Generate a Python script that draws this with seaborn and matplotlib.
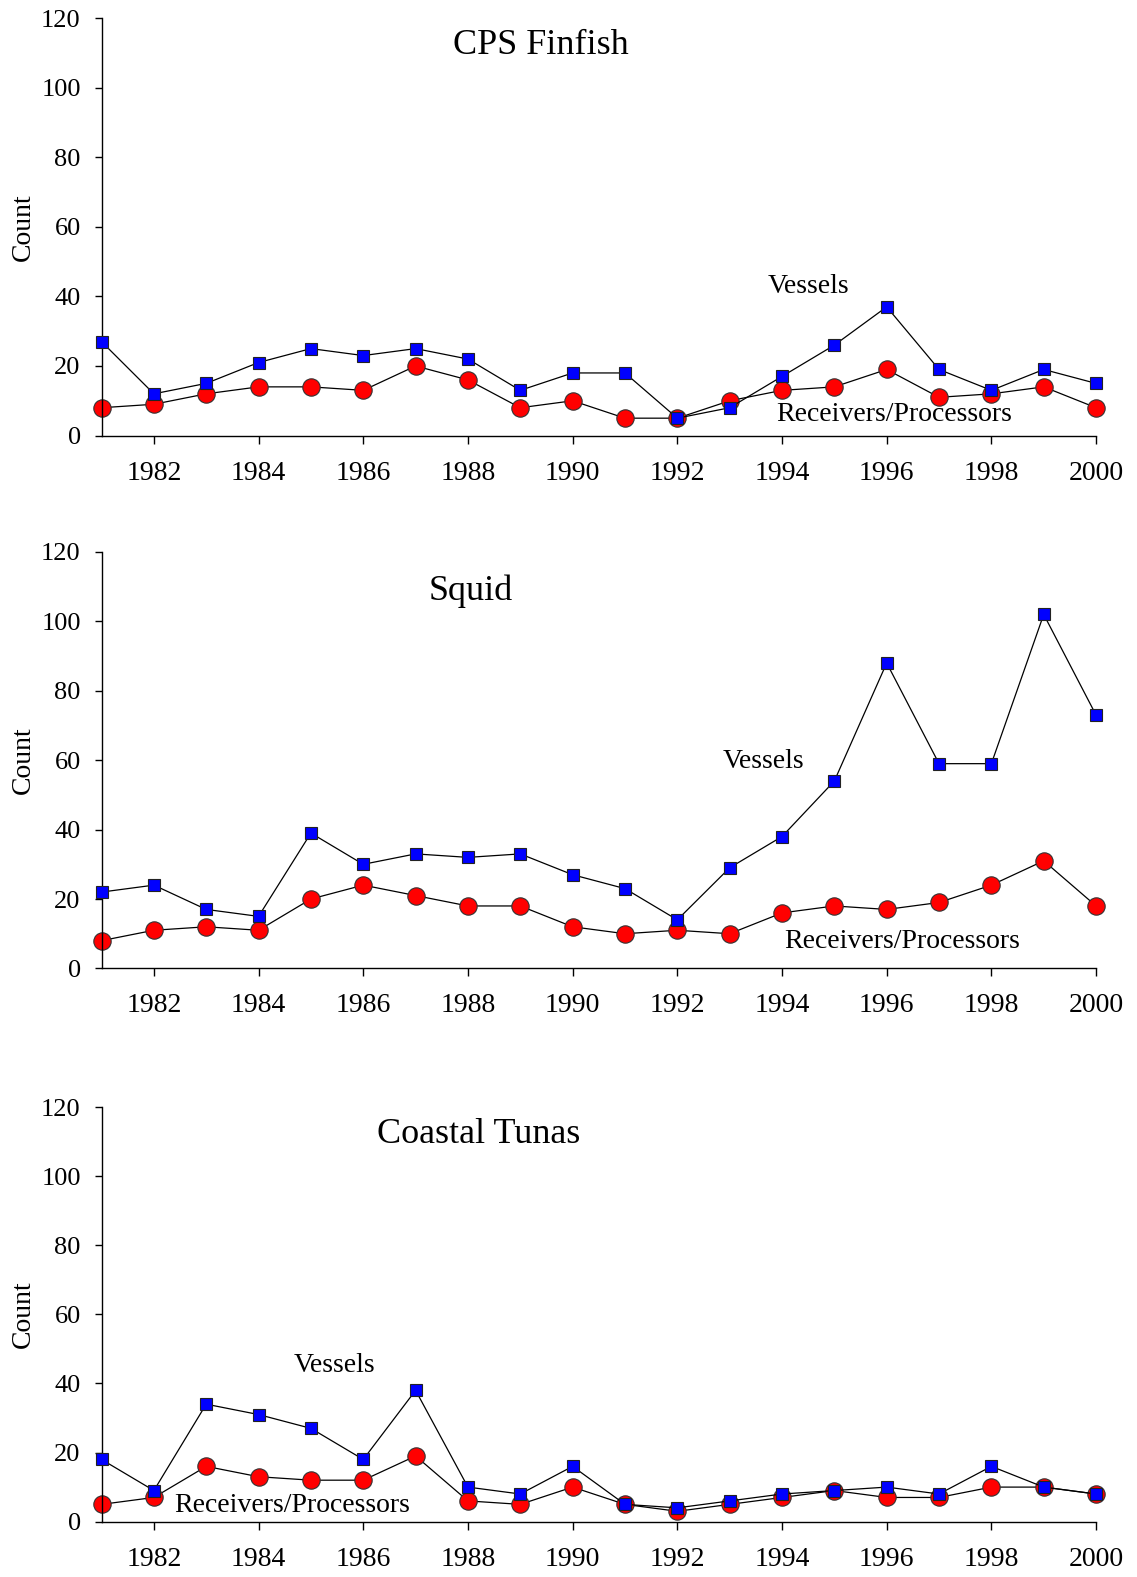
import numpy as np
import pandas as pd
import matplotlib
matplotlib.use("Agg")
import matplotlib.pyplot as plt
import seaborn as sns

years = list(range(1981, 2001))

finfish_vessels = [27, 12, 15, 21, 25, 23, 25, 22, 13, 18, 18, 5, 8, 17, 26, 37, 19, 13, 19, 15]
finfish_receivers = [8, 9, 12, 14, 14, 13, 20, 16, 8, 10, 5, 5, 10, 13, 14, 19, 11, 12, 14, 8]

squid_vessels = [22, 24, 17, 15, 39, 30, 33, 32, 33, 27, 23, 14, 29, 38, 54, 88, 59, 59, 102, 73]
squid_receivers = [8, 11, 12, 11, 20, 24, 21, 18, 18, 12, 10, 11, 10, 16, 18, 17, 19, 24, 31, 18]

tunas_vessels = [18, 9, 34, 31, 27, 18, 38, 10, 8, 16, 5, 4, 6, 8, 9, 10, 8, 16, 10, 8]
tunas_receivers = [5, 7, 16, 13, 12, 12, 19, 6, 5, 10, 5, 3, 5, 7, 9, 7, 7, 10, 10, 8]

titles = ["CPS Finfish", "Squid", "Coastal Tunas"]
y_ticks = [0, 20, 40, 60, 80, 100, 120]
x_ticks = list(range(1982, 2001, 2))

sns.set_theme(style="ticks")
plt.rcParams['font.family'] = ['Liberation Serif', 'DejaVu Serif']
plt.rcParams['text.color'] = 'black'
plt.rcParams['axes.labelcolor'] = 'black'
plt.rcParams['xtick.color'] = 'black'
plt.rcParams['ytick.color'] = 'black'
plt.rcParams['axes.edgecolor'] = 'black'

fig = plt.figure(figsize=(11.37, 15.77), dpi=100)

panels = [
    (finfish_vessels, finfish_receivers),
    (squid_vessels, squid_receivers),
    (tunas_vessels, tunas_receivers),
]
bottoms = [0.7238, 0.3859, 0.0351]
heights = [0.2647, 0.2641, 0.2629]

# text placement (data coords): title, vessels label, receivers label
text_pos = [
    ((1989.4, 112.2), (1994.5, 42.8), (1996.15, 6.1)),
    ((1988.05, 108.7), (1993.65, 59.7), (1996.3, 7.8)),
    ((1988.2, 112.1), (1985.45, 45.1), (1984.65, 4.7)),
]

for i, (ves, rec) in enumerate(panels):
    ax = fig.add_axes([0.0893, bottoms[i], 0.8747, heights[i]])
    df = pd.DataFrame({"Year": years, "Vessels": ves, "Receivers": rec})
    sns.lineplot(data=df, x="Year", y="Receivers", ax=ax, color="black", lw=0.9,
                 marker="o", markersize=12.5, markerfacecolor="#FF0000",
                 markeredgecolor="#333333", markeredgewidth=0.8, zorder=2)
    sns.lineplot(data=df, x="Year", y="Vessels", ax=ax, color="black", lw=0.9,
                 marker="s", markersize=9, markerfacecolor="#0000FF",
                 markeredgecolor="#222222", markeredgewidth=0.8, zorder=3)
    ax.set_xlim(1981, 2000)
    ax.set_ylim(0, 120)
    ax.set_xticks(x_ticks)
    ax.set_xticklabels([str(t) for t in x_ticks])
    ax.set_yticks(y_ticks)
    for sp in ["top", "right"]:
        ax.spines[sp].set_visible(False)
    for sp in ["left", "bottom"]:
        ax.spines[sp].set_linewidth(1.0)
        ax.spines[sp].set_color("black")
    ax.tick_params(axis="x", direction="out", length=6, width=1.0, pad=12, labelsize=20, colors="black")
    ax.tick_params(axis="y", direction="out", length=5, width=1.0, pad=10, labelsize=19, colors="black")
    ax.set_xlabel("")
    ax.set_ylabel("Count", fontsize=20, labelpad=4, color="black")
    for line in ax.lines:
        line.set_clip_on(False)
    (tx, ty), (vx, vy), (rx, ry) = text_pos[i]
    ax.text(tx, ty, titles[i], fontsize=26, ha="center", va="center", color="black")
    ax.text(vx, vy, "Vessels", fontsize=20, ha="center", va="center", color="black")
    ax.text(rx, ry, "Receivers/Processors", fontsize=20, ha="center", va="center", color="black")

fig.savefig("out.png", dpi=100, facecolor="white")
